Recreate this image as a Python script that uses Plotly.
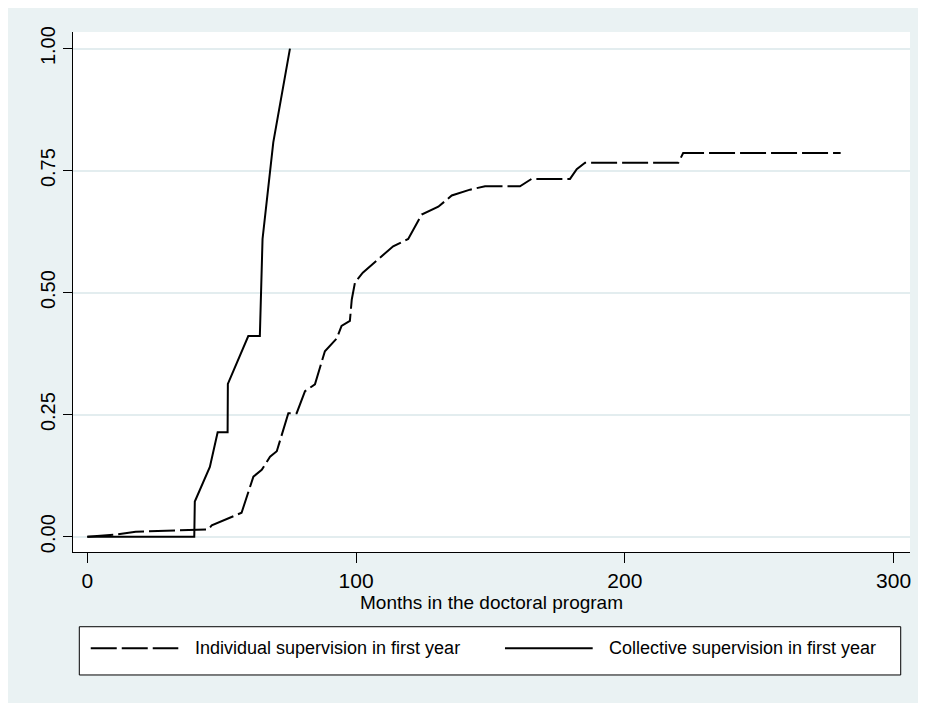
import plotly.graph_objects as go

# Data
individual_months = [0, 10, 18, 45, 46.3, 57.4, 61.8, 64.9, 68.0, 70.5, 74.8, 77.9, 81.0, 84.7,
                     88.4, 92.8, 94.6, 97.7, 98.4, 99.6, 102.5, 111.4, 113.8, 119.4, 124.4,
                     130.6, 135.6, 142.4, 148.0, 161.0, 165.3, 179.6, 182.1, 185.2, 219.9,
                     221.7, 280.3]
individual_share = [0, 0.004, 0.010, 0.015, 0.023, 0.049, 0.123, 0.137, 0.164, 0.175, 0.253,
                    0.253, 0.298, 0.312, 0.380, 0.406, 0.432, 0.442, 0.486, 0.521, 0.541,
                    0.582, 0.595, 0.610, 0.660, 0.676, 0.699, 0.711, 0.718, 0.718, 0.733,
                    0.733, 0.753, 0.766, 0.766, 0.786, 0.786]

collective_months = [0, 39.8, 40.0, 45.6, 48.5, 52.2, 52.3, 59.9, 64.2, 65.2, 69.2, 75.4]
collective_share = [0, 0, 0.072, 0.143, 0.214, 0.214, 0.313, 0.411, 0.411, 0.610, 0.808, 1.0]

series_names = ["Individual supervision in first year", "Collective supervision in first year"]
series_dash = ["26px,5px", "solid"]

x_ticks = [0, 100, 200, 300]
y_ticks = [0, 0.25, 0.5, 0.75, 1.0]
y_tick_labels = ["0.00", "0.25", "0.50", "0.75", "1.00"]

BG = "#EAF2F3"
GRID = "#E3EDEF"
FONT = "Arial, Liberation Sans, sans-serif"

fig = go.Figure()
fig.add_trace(go.Scatter(
    x=individual_months, y=individual_share, mode="lines",
    name=series_names[0], showlegend=False,
    line=dict(color="black", width=2, dash=series_dash[0]),
))
fig.add_trace(go.Scatter(
    x=collective_months, y=collective_share, mode="lines",
    name=series_names[1], showlegend=False,
    line=dict(color="black", width=2, dash=series_dash[1]),
))

# Legend box drawn below the plot (Stata style), in paper coordinates
leg_y = -0.1852
shapes = [
    dict(type="rect", xref="paper", yref="paper", x0=0.00753, x1=0.9889,
         y0=-0.2365, y1=-0.1437, fillcolor="white", line=dict(color="black", width=1)),
    dict(type="line", xref="paper", yref="paper", x0=0.0212, x1=0.1258, y0=leg_y, y1=leg_y,
         line=dict(color="black", width=2, dash=series_dash[0])),
    dict(type="line", xref="paper", yref="paper", x0=0.5161, x1=0.6209, y0=leg_y, y1=leg_y,
         line=dict(color="black", width=2, dash=series_dash[1])),
]
annotations = [
    dict(xref="paper", yref="paper", x=0.1437, y=leg_y, xanchor="left", yanchor="middle",
         text=series_names[0], showarrow=False, font=dict(size=18, family=FONT, color="black")),
    dict(xref="paper", yref="paper", x=0.6376, y=leg_y, xanchor="left", yanchor="middle",
         text=series_names[1], showarrow=False, font=dict(size=18, family=FONT, color="black")),
]

fig.update_layout(
    width=918, height=695,
    margin=dict(l=65, r=16, t=24, b=151),
    paper_bgcolor=BG, plot_bgcolor="white",
    font=dict(family=FONT, color="black"),
    showlegend=False,
    xaxis=dict(
        range=[-5.32, 306.1], tickvals=x_ticks, ticks="outside", ticklen=10,
        tickcolor="black", tickwidth=1, showline=True, linecolor="black", linewidth=1,
        showgrid=False, zeroline=False, tickfont=dict(size=21),
        title=dict(text="Months in the doctoral program", font=dict(size=19), standoff=2),
    ),
    yaxis=dict(
        range=[-0.0314, 1.034], tickvals=y_ticks, ticktext=y_tick_labels, tickangle=-90,
        ticks="outside", ticklen=9, tickcolor="black", tickwidth=1,
        showline=True, linecolor="black", linewidth=1,
        showgrid=True, gridcolor=GRID, gridwidth=2, zeroline=False,
        tickfont=dict(size=20),
    ),
    shapes=shapes,
    annotations=annotations,
)

fig.write_html("out.html")
